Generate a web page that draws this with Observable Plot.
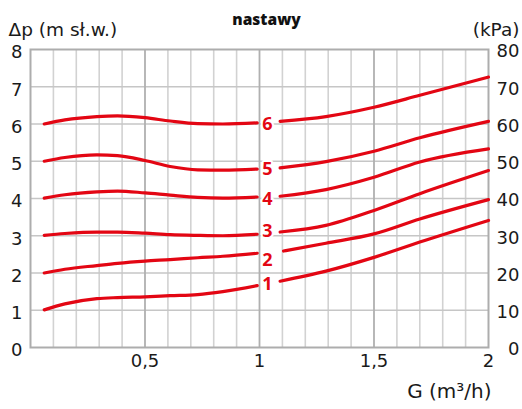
<!DOCTYPE html>
<html><head><meta charset="utf-8">
<script src="https://cdn.jsdelivr.net/npm/d3@7"></script>
<script src="https://cdn.jsdelivr.net/npm/@observablehq/plot@0.6"></script>
<style>
body{margin:0;background:#fff}
#chart svg{display:block}
</style>
</head><body><div id="chart"></div>
<script>
// setting numbers (nastawy)
const series = ["1", "2", "3", "4", "5", "6"];
// left segment (before labels)
const gLeft = [0.06, 0.15, 0.29, 0.38, 0.5, 0.61, 0.73, 0.84, 0.99];
const left1 = [1.01, 1.17, 1.31, 1.34, 1.36, 1.39, 1.42, 1.50, 1.66];
const left2 = [2.00, 2.10, 2.20, 2.26, 2.32, 2.36, 2.41, 2.45, 2.53];
const left3 = [3.01, 3.06, 3.10, 3.10, 3.07, 3.03, 3.01, 3.00, 3.04];
const left4 = [4.01, 4.10, 4.18, 4.20, 4.15, 4.09, 4.03, 4.01, 4.04];
const left5 = [5.00, 5.10, 5.17, 5.15, 5.02, 4.86, 4.77, 4.76, 4.79];
const left6 = [6.00, 6.11, 6.20, 6.22, 6.17, 6.08, 6.01, 6.00, 6.03];
// right segment (after labels)
const gRight = [1.09, 1.29, 1.5, 1.7, 2.0];
const gRightStart = [1.09, 1.105, 1.09, 1.09, 1.09, 1.09];
const right1 = [1.78, 2.05, 2.42, 2.83, 3.41];
const right2 = [2.59, 2.80, 3.05, 3.45, 3.97];
const right3 = [3.10, 3.28, 3.68, 4.13, 4.75];
const right4 = [4.06, 4.24, 4.57, 4.98, 5.33];
const right5 = [4.82, 4.99, 5.27, 5.63, 6.07];
const right6 = [6.07, 6.20, 6.45, 6.77, 7.26];
// curve labels
const labelG = 1.035;
const labelDp = [1.71, 2.33, 3.12, 3.98, 4.78, 5.99];
// ticks
const yTicks = [0, 1, 2, 3, 4, 5, 6, 7, 8];
const kPaLabels = ["0", "10", "20", "30", "40", "50", "60", "70", "80"];
const xTicks = [0.5, 1, 1.5, 2];
const xTickLabels = ["0,5", "1", "1,5", "2"];
const xMinor = [0.1,0.2,0.3,0.4,0.6,0.7,0.8,0.9,1.1,1.2,1.3,1.4,1.6,1.7,1.8,1.9];
const xMajor = [0.5, 1, 1.5];
const yGrid = [1, 2, 3, 4, 5, 6, 7];

const lefts = [left1, left2, left3, left4, left5, left6];
const rights = [right1, right2, right3, right4, right5, right6];
const rows = [];
series.forEach((s, i) => {
  gLeft.forEach((g, j) => rows.push({s, seg: s + "L", g, dp: lefts[i][j]}));
  gRight.forEach((g, j) => rows.push({s, seg: s + "R", g: j === 0 ? gRightStart[i] : g, dp: rights[i][j]}));
});
const labels = series.map((s, i) => ({s, g: labelG, dp: labelDp[i]}));

const RED = "#e30613";
const FONT = "'DejaVu Sans', sans-serif";
const INK = "#1a1a1a";

const chart = Plot.plot({
  width: 522, height: 409,
  marginLeft: 30, marginRight: 34, marginTop: 49, marginBottom: 62,
  style: {fontFamily: FONT, background: "#fff", overflow: "visible"},
  x: {domain: [0, 2], axis: null},
  y: {domain: [0, 8], axis: null},
  marks: [
    Plot.ruleX(xMinor, {stroke: "#d2d2d2", strokeWidth: 1.6}),
    Plot.ruleY(yGrid, {stroke: "#c6c6c6", strokeWidth: 1.6}),
    Plot.ruleX(xMajor, {stroke: "#b0b0b0", strokeWidth: 1.8}),
    Plot.frame({stroke: "#adadad", strokeWidth: 2}),
    Plot.line(rows, {x: "g", y: "dp", z: "seg", stroke: RED, strokeWidth: 3.2, curve: "monotone-x"}),
    Plot.text(labels, {x: "g", y: "dp", text: "s", fill: RED, fontWeight: "bold", fontSize: 18,
      fontFamily: "'Open Sans', sans-serif", stroke: "white", strokeWidth: 4}),
    Plot.text(yTicks, {y: d => d, text: d => String(d), frameAnchor: "left", textAnchor: "end", dx: -8, dy: 3, fontSize: 18, fill: INK}),
    Plot.text(yTicks, {y: d => d, text: (d, i) => kPaLabels[i], frameAnchor: "right", textAnchor: "end", dx: 31, dy: 2, fontSize: 18, fill: INK}),
    Plot.text(xTicks, {x: d => d, text: (d, i) => xTickLabels[i], frameAnchor: "bottom", dy: 19, fontSize: 18, fill: INK}),
    Plot.text(["Δp (m sł.w.)"], {frameAnchor: "top-left", textAnchor: "start", dx: -22, dy: -27, fontSize: 18.5, fill: INK}),
    Plot.text(["(kPa)"], {frameAnchor: "top-right", textAnchor: "end", dx: 31, dy: -27, fontSize: 18.5, fill: INK}),
    Plot.text(["nastawy"], {frameAnchor: "top", dx: 7, dy: -36, fontSize: 15.5, fontWeight: 800, fontFamily: "'Open Sans', sans-serif", fill: "#111"}),
    Plot.text(["G (m³/h)"], {frameAnchor: "bottom-right", textAnchor: "end", dx: 3, dy: 50, fontSize: 20, fill: INK})
  ]
});
document.getElementById("chart").appendChild(chart);
</script>
</body></html>
